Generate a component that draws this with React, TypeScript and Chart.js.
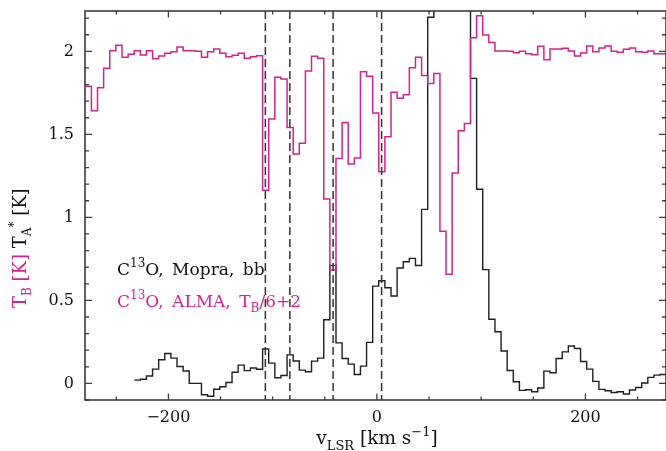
import React, { useEffect, useRef } from 'react';
import { Chart, registerables } from 'chart.js';

Chart.register(...registerables);

// Spectral channel grid (km/s): left edge of first channel of each spectrum and channel width
const almaFirstEdge = -279.72;
const mopraFirstEdge = -232.8;
const channelWidth = 5.865;

// ALMA C13O, T_B/6+2 [K]
const almaTB = [
  1.79, 1.642, 1.781, 1.898, 2.004, 2.036, 1.964, 1.982,
  2.004, 1.978, 2.004, 1.956, 1.972, 1.988, 1.997, 2.026, 2.004, 2.003,
  2.0, 1.964, 1.997, 2.014, 1.989, 1.967, 1.976, 1.988, 1.958, 1.967,
  1.974, 1.164, 1.592, 1.844, 1.834, 1.542, 1.381, 1.446, 1.881, 1.97,
  1.958, 1.11, 0.683, 1.354, 1.571, 1.321, 1.357, 1.877, 1.85, 1.628,
  1.275, 1.486, 1.753, 1.718, 1.739, 1.901, 1.964, 1.855, 1.807, 1.867,
  0.917, 0.657, 1.267, 1.522, 1.566, 2.082, 2.214, 2.098, 2.054, 2.002,
  2.002, 2.0, 1.992, 2.0, 1.986, 1.98, 2.03, 1.95, 2.014, 2.014,
  2.018, 2.002, 1.972, 1.99, 2.032, 1.998, 2.02, 2.032, 2.0, 1.994,
  2.012, 2.02, 1.998, 1.994, 2.002, 1.986, 1.986,
];

// Mopra C13O T_A* [K]
const mopraTA = [
  0.02, 0.025, 0.045, 0.086, 0.142, 0.18, 0.152, 0.102, 0.075, 0.0,
  0.0, -0.068, -0.077, -0.035, -0.02, 0.005, 0.067, 0.11, 0.077, 0.093,
  0.085, 0.207, 0.122, 0.034, 0.048, 0.172, 0.135, 0.08, 0.07, 0.134,
  0.152, 0.383, 0.71, 0.244, 0.15, 0.116, 0.054, 0.104, 0.247, 0.586,
  0.618, 0.576, 0.526, 0.695, 0.733, 0.753, 0.71, 1.048, 2.205, 2.8,
  3.4, 3.8, 3.9, 3.6, 3.0, 1.837, 1.169, 0.685, 0.386, 0.311,
  0.195, 0.078, 0.01, -0.042, -0.038, -0.05, -0.028, 0.074, 0.064, 0.15,
  0.19, 0.225, 0.21, 0.132, 0.086, 0.012, -0.036, -0.044, -0.055, -0.05,
  -0.064, -0.04, -0.025, 0.002, 0.036, 0.05, 0.054,
];

const markerVelocities = [-107, -83.5, -42, 4.5];

const xMin = -280;
const xMax = 277.3;
const yMin = -0.1;
const yMax = 2.243;

const PINK = '#d4228c';
const INK = '#111111';
const FONT = "'DejaVu Serif', serif";
const SP = '\u2002';

function stepPoints(firstEdge: number, values: number[]) {
  const pts = values.map((v, i) => ({ x: firstEdge + i * channelWidth, y: v }));
  pts.push({ x: firstEdge + values.length * channelWidth, y: values[values.length - 1] });
  return pts;
}

type Seg = { t: string; c: string; kind?: 'sub' | 'sup' };

function drawRich(ctx: CanvasRenderingContext2D, segs: Seg[], x: number, y: number, size: number, align: 'left' | 'center') {
  const small = Math.round(size * 0.68);
  const widthOf = (s: Seg) => {
    ctx.font = `${s.kind ? small : size}px ${FONT}`;
    return ctx.measureText(s.t).width;
  };
  let total = 0;
  segs.forEach((s) => (total += widthOf(s)));
  let cx = align === 'center' ? x - total / 2 : x;
  ctx.textBaseline = 'alphabetic';
  ctx.textAlign = 'left';
  segs.forEach((s) => {
    const w = widthOf(s);
    ctx.font = `${s.kind ? small : size}px ${FONT}`;
    ctx.fillStyle = s.c;
    const dy = s.kind === 'sub' ? size * 0.3 : s.kind === 'sup' ? -size * 0.45 : 0;
    ctx.fillText(s.t, cx, y + dy);
    cx += w;
  });
}

const overlayPlugin = {
  id: 'overlay',
  afterDatasetsDraw(chart: any) {
    const { ctx, chartArea: a, scales } = chart;
    const xs = scales.x;
    const ys = scales.y;
    ctx.save();

    // dashed velocity markers
    ctx.strokeStyle = '#333333';
    ctx.lineWidth = 1.5;
    ctx.setLineDash([8, 4]);
    markerVelocities.forEach((v) => {
      const px = xs.getPixelForValue(v);
      ctx.beginPath();
      ctx.moveTo(px, a.top);
      ctx.lineTo(px, a.bottom);
      ctx.stroke();
    });
    ctx.setLineDash([]);

    // frame
    ctx.strokeStyle = '#3c3c3c';
    ctx.lineWidth = 1.6;
    ctx.strokeRect(a.left, a.top, a.right - a.left, a.bottom - a.top);

    // ticks (inside)
    ctx.lineWidth = 1.3;
    xs.ticks.forEach((t: any) => {
      const px = xs.getPixelForValue(t.value);
      const major = Math.abs(t.value / 200 - Math.round(t.value / 200)) < 1e-6;
      const len = major ? 6.5 : 3.5;
      ctx.beginPath();
      ctx.moveTo(px, a.bottom);
      ctx.lineTo(px, a.bottom - len);
      ctx.moveTo(px, a.top);
      ctx.lineTo(px, a.top + len);
      ctx.stroke();
    });
    ys.ticks.forEach((t: any) => {
      const py = ys.getPixelForValue(t.value);
      const major = Math.abs(t.value * 2 - Math.round(t.value * 2)) < 1e-6;
      const len = major ? 7 : 4;
      ctx.beginPath();
      ctx.moveTo(a.left, py);
      ctx.lineTo(a.left + len, py);
      ctx.moveTo(a.right, py);
      ctx.lineTo(a.right - len, py);
      ctx.stroke();
    });

    // legend texts
    drawRich(ctx, [
      { t: 'C', c: INK }, { t: '13', c: INK, kind: 'sup' }, { t: `O,${SP}Mopra,${SP}bb`, c: INK },
    ], 117, 275, 17, 'left');
    drawRich(ctx, [
      { t: 'C', c: PINK }, { t: '13', c: PINK, kind: 'sup' }, { t: `O,${SP}ALMA,${SP}T`, c: PINK },
      { t: 'B', c: PINK, kind: 'sub' }, { t: '/6+2', c: PINK },
    ], 117, 307, 17, 'left');

    // x title
    drawRich(ctx, [
      { t: 'v', c: INK }, { t: 'LSR', c: INK, kind: 'sub' }, { t: ' [km s', c: INK },
      { t: '−1', c: INK, kind: 'sup' }, { t: ']', c: INK },
    ], 377, 444, 18.5, 'center');

    // y title (rotated)
    ctx.translate(26, 308);
    ctx.rotate(-Math.PI / 2);
    drawRich(ctx, [
      { t: 'T', c: PINK }, { t: 'B', c: PINK, kind: 'sub' }, { t: ' [K]', c: PINK },
      { t: ' T', c: INK }, { t: 'A', c: INK, kind: 'sub' }, { t: '*', c: INK, kind: 'sup' }, { t: ' [K]', c: INK },
    ], 0, 0, 18, 'left');
    ctx.restore();
  },
};

export default function App() {
  const ref = useRef<HTMLCanvasElement | null>(null);
  useEffect(() => {
    if (!ref.current) return;
    const chart = new Chart(ref.current, {
      type: 'line',
      data: {
        datasets: [
          {
            label: 'ALMA',
            data: stepPoints(almaFirstEdge, almaTB),
            borderColor: PINK,
            borderWidth: 1.5,
            stepped: 'before',
            pointRadius: 0,
            fill: false,
          },
          {
            label: 'Mopra',
            data: stepPoints(mopraFirstEdge, mopraTA),
            borderColor: '#1e1e1e',
            borderWidth: 1.4,
            stepped: 'before',
            pointRadius: 0,
            fill: false,
          },
        ],
      },
      options: {
        responsive: false,
        animation: false,
        layout: { padding: { top: 11, right: 0, left: 0, bottom: 0 } },
        plugins: { legend: { display: false }, tooltip: { enabled: false } },
        scales: {
          x: {
            type: 'linear',
            min: xMin,
            max: xMax,
            grid: { display: false, drawTicks: false },
            border: { display: false },
            afterFit: (s: any) => {
              s.height = 51;
              s.paddingLeft = 0;
              s.paddingRight = 0;
              s.paddingTop = 0;
              s.paddingBottom = 0;
            },
            ticks: {
              stepSize: 50,
              includeBounds: false,
              autoSkip: false,
              maxRotation: 0,
              padding: 8,
              color: INK,
              font: { family: FONT, size: 16 },
              callback: (v: any) => {
                const n = Number(v);
                if (Math.abs(n / 200 - Math.round(n / 200)) > 1e-6) return '';
                return n < 0 ? '−' + Math.abs(n) : String(n);
              },
            },
          },
          y: {
            type: 'linear',
            min: yMin,
            max: yMax,
            grid: { display: false, drawTicks: false },
            border: { display: false },
            afterFit: (s: any) => {
              s.width = 85;
              s.paddingLeft = 0;
              s.paddingRight = 0;
              s.paddingTop = 0;
              s.paddingBottom = 0;
            },
            ticks: {
              stepSize: 0.1,
              includeBounds: false,
              autoSkip: false,
              padding: 11,
              color: INK,
              font: { family: FONT, size: 16 },
              callback: (v: any) => {
                const n = Number(v);
                if (Math.abs(n * 2 - Math.round(n * 2)) > 1e-6) return '';
                return String(Math.round(n * 10) / 10);
              },
            },
          },
        },
      },
      plugins: [overlayPlugin],
    } as any);
    return () => chart.destroy();
  }, []);
  return (
    <canvas
      ref={ref}
      width={666}
      height={451}
      style={{ position: 'fixed', left: 0, top: 0, width: 666, height: 451, background: '#fff' }}
    />
  );
}
